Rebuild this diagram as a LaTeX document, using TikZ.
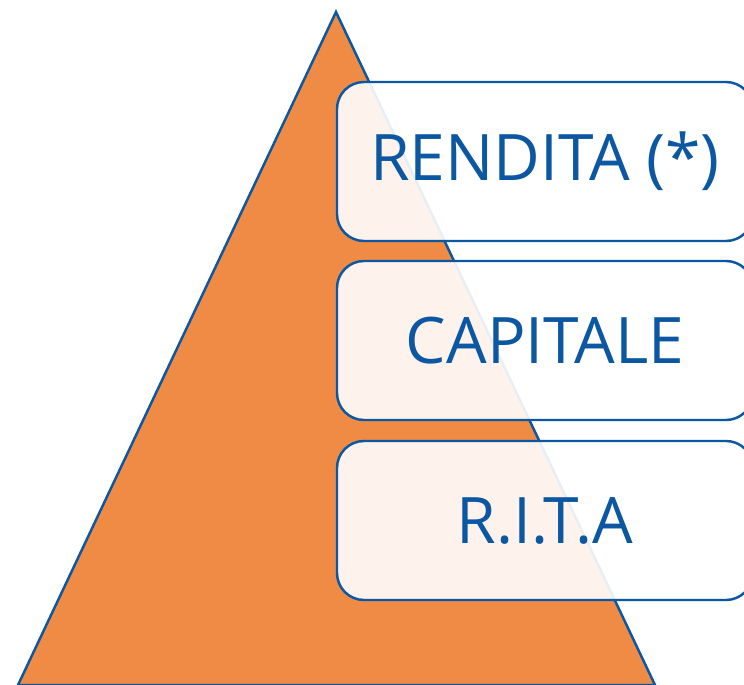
\documentclass[tikz,border=0pt]{standalone}
\usepackage{fontspec}
\setmainfont{Open Sans}
\definecolor{pyrorange}{HTML}{EF8B45}
\definecolor{pyrblue}{HTML}{0C57A2}
\tikzset{
  level/.style={rectangle,rounded corners=0.54cm,draw=pyrblue,line width=1.4pt,
    fill=white,fill opacity=0.9,text opacity=1,text=pyrblue,
    minimum width=8.32cm,minimum height=3.18cm,inner sep=0pt,
    font=\fontsize{36.5}{40}\selectfont}
}
\begin{document}
\begin{tikzpicture}
\useasboundingbox (0,0) rectangle (14.88,13.7);

\coordinate (top) at (6.72,13.46);
\coordinate (left) at (0.36,0);
\coordinate (right) at (13.1,0);
\filldraw[fill=pyrorange,draw=pyrblue,line width=1.4pt,line join=miter] (left) -- (top) -- (right) -- cycle;

\node[level] (rendita) at (10.9,10.47) {RENDITA (*)};
\node[level] (capitale) at (10.9,6.89) {CAPITALE};
\node[level] (rita) at (10.9,3.29) {R.I.T.A};

\end{tikzpicture}
\end{document}
